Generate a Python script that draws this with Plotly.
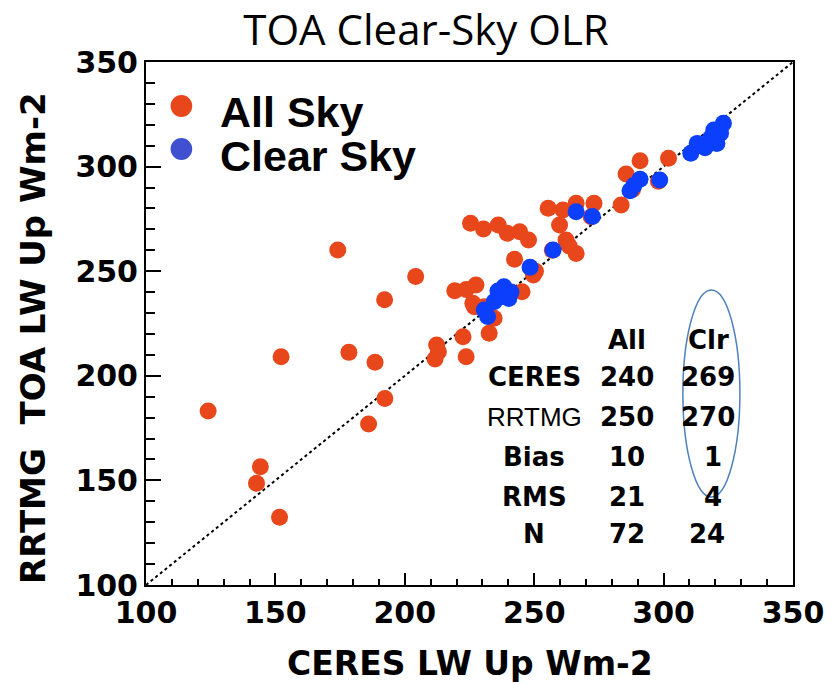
import plotly.graph_objects as go

# ---------------- data ----------------
all_sky_x = [124.0, 152.2, 144.2, 142.7, 151.6, 174.1, 178.4, 188.5, 192.3, 186.0,
             192.2, 204.2, 212.3, 213.0, 211.7, 222.5, 223.7, 219.3, 223.7, 227.5,
             226.9, 232.6, 245.3, 242.4, 225.4, 230.4, 236.1, 239.6, 244.4, 247.8,
             249.7, 255.4, 261.1, 266.2, 273.1, 259.8, 262.3, 266.2, 263.5, 283.6,
             285.5, 290.9, 301.9, 226.3, 234.5, 230.7, 238.0, 237.0, 272.0, 257.0,
             288.0, 298.0, 250.5]
all_sky_y = [183.2, 209.1, 156.5, 148.6, 132.4, 260.1, 211.2, 206.5, 189.2, 177.0,
             236.4, 247.5, 214.7, 211.5, 208.0, 218.7, 209.1, 240.7, 241.3, 243.4,
             233.0, 220.3, 240.2, 255.7, 272.9, 270.2, 272.1, 268.1, 268.9, 264.9,
             248.2, 280.1, 279.3, 282.5, 282.5, 272.1, 264.9, 258.5, 262.0, 281.6,
             296.5, 302.8, 304.0, 234.7, 227.5, 233.0, 241.0, 238.0, 276.0, 260.0,
             289.0, 293.0, 250.0]

clear_x = [323.1, 319.4, 318.1, 313.0, 320.6, 310.5, 316.0, 322.0, 298.5, 290.9,
           287.0, 288.5, 266.2, 272.5, 257.3, 248.4, 238.3, 237.0, 240.2, 234.5,
           230.7, 232.0, 241.0, 236.0]
clear_y = [320.7, 317.5, 313.5, 311.1, 311.1, 306.4, 309.0, 316.0, 293.6, 294.0,
           288.5, 291.0, 278.4, 276.1, 260.1, 251.9, 242.6, 237.8, 237.0, 235.4,
           231.5, 228.3, 240.0, 240.5]

one_to_one = [100, 350]

x_ticks = [100, 150, 200, 250, 300, 350]
y_ticks = [100, 150, 200, 250, 300, 350]

table_cols = ["All", "Clr"]
table_rows = ["CERES", "RRTMG", "Bias", "RMS", "N"]
table_all = ["240", "250", "10", "21", "72"]
table_clr = ["269", "270", "1", "4", "24"]

legend_names = ["All Sky", "Clear Sky"]

# ---------------- styling ----------------
ORANGE = "#E8471B"
BLUE = "#0B3FFB"
LEG_BLUE = "#3F50D0"
W, H = 836, 684
L, R, T, B = 146, 32, 62, 99
PW, PH = W - L - R, H - T - B


def px(x):
    return (x - L) / PW


def py(y):
    return (H - B - y) / PH


fig = go.Figure()
fig.add_trace(go.Scatter(x=one_to_one, y=one_to_one, mode="lines",
                         line=dict(color="black", width=2, dash="dot"),
                         showlegend=False, hoverinfo="skip"))
fig.add_trace(go.Scatter(x=all_sky_x, y=all_sky_y, mode="markers", name=legend_names[0],
                         marker=dict(color=ORANGE, size=17, line=dict(width=0)),
                         showlegend=False))
fig.add_trace(go.Scatter(x=clear_x, y=clear_y, mode="markers", name=legend_names[1],
                         marker=dict(color=BLUE, size=17, line=dict(width=0)),
                         showlegend=False))

tickfont = dict(family="DejaVu Sans", size=30, color="black", weight="bold")
axis_common = dict(range=[100, 350], showgrid=False, zeroline=False, showline=True,
                   linecolor="black", linewidth=2, mirror=True, ticks="inside",
                   tickcolor="black", tickwidth=2, tickfont=tickfont)
xminor = dict(dtick=10, ticks="inside", ticklen=6, tickwidth=2, tickcolor="black")
yminor = dict(dtick=10, ticks="inside", ticklen=9, tickwidth=2, tickcolor="black")
fig.update_layout(
    xaxis=dict(**axis_common, tickvals=x_ticks, ticklen=12, minor=xminor),
    yaxis=dict(**axis_common, tickvals=y_ticks, ticklen=15, minor=yminor),
    # mirrored tick marks on the top and right edges
    xaxis2=dict(range=[100, 350], overlaying="x", side="top", anchor="y", showgrid=False,
                zeroline=False, showline=False, ticks="inside", tickvals=x_ticks, ticklen=12,
                tickwidth=2, tickcolor="black", showticklabels=False, minor=xminor),
    yaxis2=dict(range=[100, 350], overlaying="y", side="right", anchor="x", showgrid=False,
                zeroline=False, showline=False, ticks="inside", tickvals=y_ticks, ticklen=15,
                tickwidth=2, tickcolor="black", showticklabels=False, minor=yminor),
)

annotations = []
# axis titles
annotations.append(dict(text="CERES LW Up Wm-2", x=px(475), y=py(663), xref="paper", yref="paper",
                        showarrow=False, xanchor="center", yanchor="middle",
                        font=dict(family="DejaVu Sans", size=33, color="black", weight="bold")))
annotations.append(dict(text="RRTMG\u00a0\u00a0TOA LW Up Wm-2", x=px(31), y=py(338), xref="paper", yref="paper",
                        showarrow=False, xanchor="center", yanchor="middle", textangle=-90,
                        font=dict(family="DejaVu Sans", size=34, color="black", weight="bold")))
# legend text
for name, yy in zip(legend_names, [112, 156]):
    annotations.append(dict(text=name, x=px(219), y=py(yy), xref="paper", yref="paper",
                            showarrow=False, xanchor="left", yanchor="middle",
                            font=dict(family="Liberation Sans", size=43, color="black", weight="bold")))
# stats table
tfont = dict(family="DejaVu Sans", size=26, color="black", weight="bold")
row_y = [377, 417, 457, 497, 534]
for c, cx in zip(table_cols, [635, 718]):
    annotations.append(dict(text=c, x=px(cx), y=py(340), xref="paper", yref="paper",
                            showarrow=False, xanchor="center", yanchor="middle", font=tfont))
for r, a, c, yy, cx in zip(table_rows, table_all, table_clr, row_y, [718, 718, 723, 723, 717]):
    f = dict(family="Liberation Sans", size=26, color="black") if r == "RRTMG" else tfont
    annotations.append(dict(text=r, x=px(541), y=py(yy), xref="paper", yref="paper",
                            showarrow=False, xanchor="center", yanchor="middle", font=f))
    annotations.append(dict(text=a, x=px(635), y=py(yy), xref="paper", yref="paper",
                            showarrow=False, xanchor="center", yanchor="middle", font=tfont))
    annotations.append(dict(text=c, x=px(cx), y=py(yy), xref="paper", yref="paper",
                            showarrow=False, xanchor="center", yanchor="middle", font=tfont))

shapes = [
    # legend swatches
    dict(type="circle", xref="paper", yref="paper", x0=px(171), x1=px(193), y0=py(95), y1=py(117),
         fillcolor=ORANGE, line=dict(width=0)),
    dict(type="circle", xref="paper", yref="paper", x0=px(171), x1=px(193), y0=py(138), y1=py(160),
         fillcolor=LEG_BLUE, line=dict(width=0)),
    # ellipse around clear column
    dict(type="circle", xref="paper", yref="paper", x0=px(692), x1=px(750), y0=py(290), y1=py(497),
         line=dict(color="#4F81BD", width=1.5), fillcolor="rgba(0,0,0,0)"),
]

fig.update_layout(
    width=W, height=H, margin=dict(l=L, r=R, t=T, b=B),
    paper_bgcolor="white", plot_bgcolor="white",
    title=dict(text="TOA Clear-Sky OLR", x=426 / W, xref="container", xanchor="center",
               y=1 - 30 / H, yref="container", yanchor="middle",
               font=dict(family="Open Sans", size=42, color="black")),
    annotations=annotations, shapes=shapes, showlegend=False,
)

fig.write_html("out.html")
